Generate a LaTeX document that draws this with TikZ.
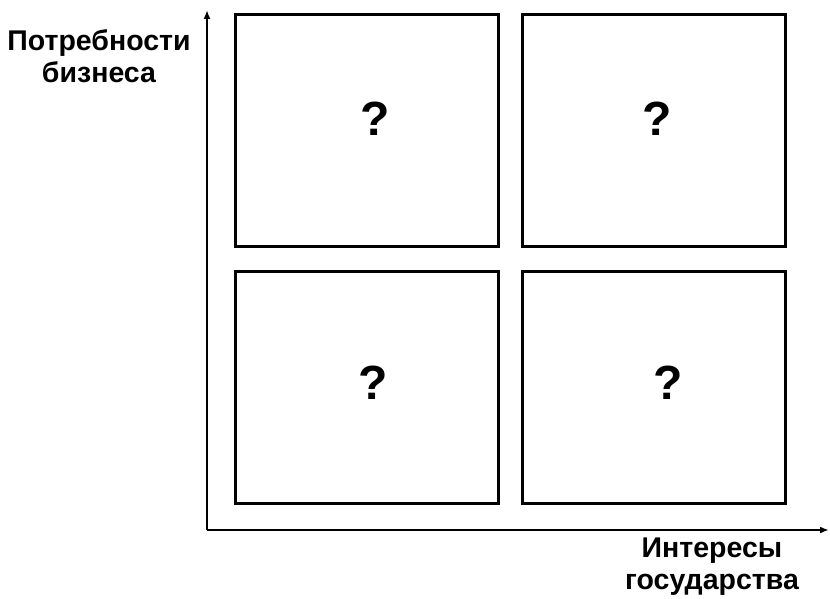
\documentclass[tikz,border=0pt]{standalone}
\usepackage{fontspec}
\setmainfont{Liberation Sans}
\usetikzlibrary{arrows.meta}
\begin{document}
\begin{tikzpicture}[x=1pt,y=-1pt,
  cell/.style={draw=black, line width=3pt, minimum width=263pt, minimum height=232pt, inner sep=0pt},
  qmark/.style={font=\bfseries\fontsize{48}{48}\selectfont, inner sep=0pt},
  axis/.style={draw=black, line width=1.8pt, -{Latex[length=9pt,width=7pt]}},
  lbl/.style={font=\bfseries\fontsize{28.5}{32}\selectfont, align=center, inner sep=0pt}]
\useasboundingbox (0,0) rectangle (830,599);
\node[cell] (c1) at (366.5,130.5) {};
\node[cell] (c2) at (653.5,130.5) {};
\node[cell] (c3) at (366.5,387) {};
\node[cell] (c4) at (653.5,387) {};
\node[qmark] (q1) at (375,119) {?};
\node[qmark] (q2) at (657,119) {?};
\node[qmark] (q3) at (373,383) {?};
\node[qmark] (q4) at (668,383) {?};
\coordinate (o) at (207,530);
\coordinate (ytop) at (207,10);
\coordinate (xend) at (829,530);
\draw[axis] (o) -- (ytop);
\draw[axis] (o) -- (xend);
\node[lbl] (yl) at (99,56) {Потребности\\бизнеса};
\node[lbl] (xl) at (712,567) {Интересы\\государства};
\end{tikzpicture}
\end{document}
